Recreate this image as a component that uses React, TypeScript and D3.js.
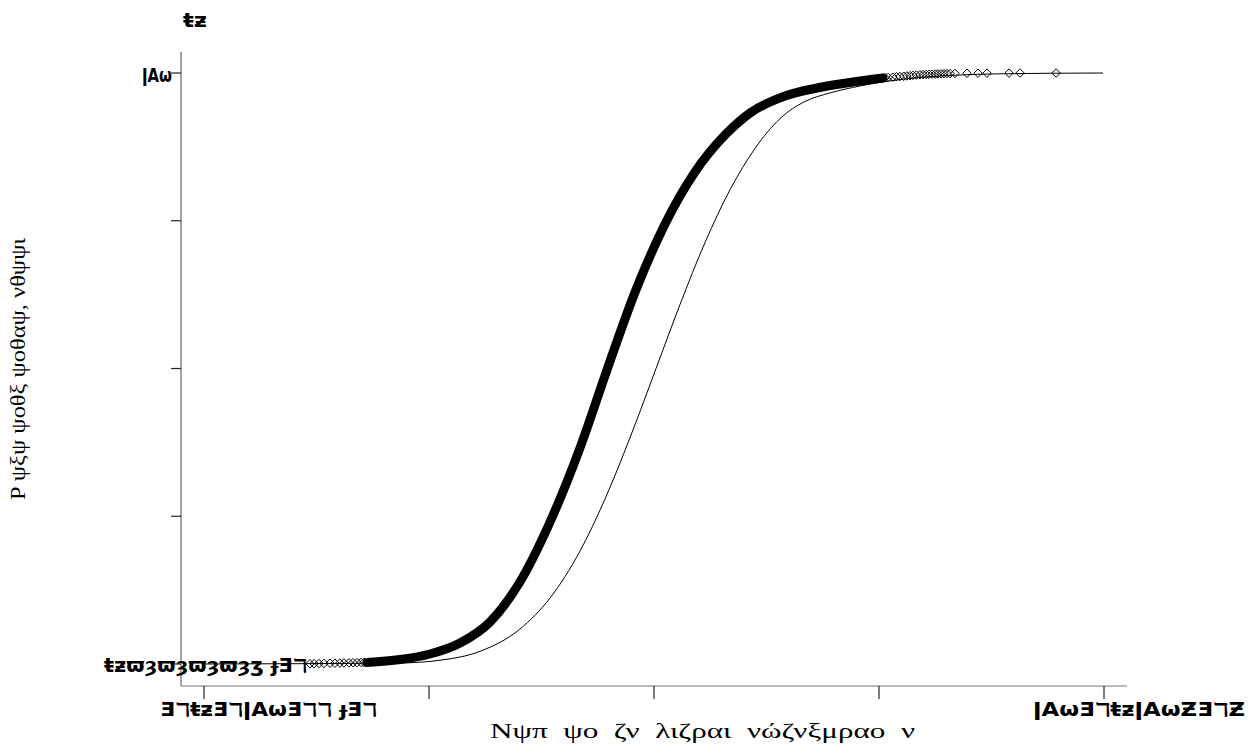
import React from "react";
import * as d3 from "d3";

// Empirical CDF (thick band of overlapping markers), x in axis units, y = cumulative share
const ecdfX = [0.724, 0.871, 1.004, 1.138, 1.271, 1.404, 1.538, 1.671, 1.791, 1.916, 2.049, 2.182, 2.316, 2.427, 2.582, 2.724, 2.871, 3.018];
const ecdfY = [0.0025, 0.0076, 0.0169, 0.0355, 0.0711, 0.1387, 0.2403, 0.3655, 0.4975, 0.6294, 0.7445, 0.8325, 0.8951, 0.9323, 0.9611, 0.9746, 0.9839, 0.9915];

// Sparse tail observations drawn as individual hollow diamonds
const tailLeftX = [0.471, 0.489, 0.511, 0.533, 0.56, 0.582, 0.604, 0.622, 0.644, 0.662, 0.68, 0.698, 0.711];
const tailLeftY = [0.0004, 0.0006, 0.0008, 0.001, 0.0012, 0.0014, 0.0016, 0.0018, 0.002, 0.0022, 0.0024, 0.0026, 0.0028];
const tailRightX = [3.027, 3.04, 3.062, 3.078, 3.093, 3.11, 3.124, 3.138, 3.151, 3.166, 3.182, 3.196, 3.209, 3.222, 3.236, 3.25, 3.262, 3.276, 3.289, 3.302, 3.316, 3.338, 3.391, 3.44, 3.48, 3.578, 3.627, 3.787];
const tailRightY = [0.992, 0.9925, 0.993, 0.9935, 0.994, 0.9945, 0.995, 0.9955, 0.996, 0.9965, 0.997, 0.9972, 0.9975, 0.9978, 0.998, 0.9982, 0.9985, 0.9987, 0.9989, 0.999, 0.9991, 0.9993, 0.9995, 0.9996, 0.9997, 0.9998, 0.9999, 1.0];

// Reference normal CDF (thin line)
const normX = [0, 0.871, 1.049, 1.227, 1.404, 1.538, 1.671, 1.782, 1.893, 2.009, 2.116, 2.227, 2.338, 2.449, 2.56, 2.671, 2.782, 2.916, 3.093, 3.316, 3.538, 3.996];
const normY = [0, 0.0017, 0.0064, 0.0215, 0.0591, 0.1117, 0.191, 0.279, 0.3826, 0.5, 0.6086, 0.7134, 0.8025, 0.8724, 0.9228, 0.9518, 0.9662, 0.978, 0.989, 0.9958, 0.99865, 1.0];

// Axis ticks
const xTicks = [0, 1, 2, 3, 4];
const yTicks = [0, 0.25, 0.5, 0.75, 1];
const xTickLabels = ["ƎℸŧƶƎℸǀAωƎℸℸ ɟƎℸ", "", "", "", "ǀAωƎℸŧƶǀAωƵƎℸƵ"];
const yTickLabels = ["ŧƶϖȝϖȝϖȝϖȝʒ ɟƎℸ", "", "", "", "ǀAω"];
const topLabel = "ŧƶ";
const xTitle = "Νψπ  ψο  ζν  λιζραι  νώζνξμραο  ν";
const yTitle = "P ψξψ ψοθξ ψοθαψ, νθψψι";

export default function App() {
  const W = 1253, H = 753;
  const x = d3.scaleLinear().domain([0, 4]).range([204, 1104]);
  const y = d3.scaleLinear().domain([0, 1]).range([664, 73]);

  const normPts = normX.map((v, i) => [v, normY[i]] as [number, number]);
  const ecdfPts = ecdfX.map((v, i) => [v, ecdfY[i]] as [number, number]);

  const line = d3
    .line<[number, number]>()
    .x((d) => x(d[0]))
    .y((d) => y(d[1]))
    .curve(d3.curveMonotoneX);

  const diamond = d3.symbol().type(d3.symbolDiamond2).size(46)() as string;
  const tails = [
    ...tailLeftX.map((v, i) => [v, tailLeftY[i]]),
    ...tailRightX.map((v, i) => [v, tailRightY[i]]),
  ];

  const axLeft = 181, axBottom = 686, axRight = 1127, axTop = 52;
  const tickFont = "'DejaVu Sans', sans-serif";

  return (
    <svg
      width={W}
      height={H}
      style={{ position: "absolute", left: 0, top: 0, background: "#fff" }}
    >
      {/* axes */}
      <line x1={axLeft} x2={axLeft} y1={axTop} y2={axBottom} stroke="#666" strokeWidth={1.2} />
      <line x1={axLeft} x2={axRight} y1={axBottom} y2={axBottom} stroke="#777" strokeWidth={1.2} />
      {xTicks.map((t) => (
        <line key={"xt" + t} x1={x(t)} x2={x(t)} y1={axBottom} y2={axBottom + 13} stroke="#222" strokeWidth={1.2} />
      ))}
      {yTicks.map((t) => (
        <line key={"yt" + t} x1={axLeft - 10} x2={axLeft} y1={y(t)} y2={y(t)} stroke="#222" strokeWidth={1.2} />
      ))}

      {/* normal reference line */}
      <path d={line(normPts) || ""} fill="none" stroke="#000" strokeWidth={1} />

      {/* empirical band */}
      <path d={line(ecdfPts) || ""} fill="none" stroke="#000" strokeWidth={9} strokeLinecap="round" strokeLinejoin="round" />
      {tails.map((d, i) => (
        <path
          key={"d" + i}
          d={diamond}
          transform={`translate(${x(d[0])},${y(d[1])})`}
          fill="none"
          stroke="#000"
          strokeWidth={1}
        />
      ))}

      {/* tick labels */}
      <text x={160} y={709} fontFamily={tickFont} fontWeight="bold" fontSize={19} dominantBaseline="central" textLength={217} lengthAdjust="spacingAndGlyphs">
        {xTickLabels[0]}
      </text>
      <text x={1033} y={709} fontFamily={tickFont} fontWeight="bold" fontSize={19} dominantBaseline="central" textLength={212} lengthAdjust="spacingAndGlyphs">
        {xTickLabels[4]}
      </text>
      <text x={142} y={y(1) + 2} fontFamily={tickFont} fontWeight="bold" fontSize={19} dominantBaseline="central" textLength={30} lengthAdjust="spacingAndGlyphs">
        {yTickLabels[4]}
      </text>
      <text x={104} y={y(0) + 1} fontFamily={tickFont} fontWeight="bold" fontSize={19} dominantBaseline="central" textLength={203} lengthAdjust="spacingAndGlyphs">
        {yTickLabels[0]}
      </text>
      <text x={183} y={20} fontFamily={tickFont} fontWeight="bold" fontSize={20} dominantBaseline="central" textLength={24} lengthAdjust="spacingAndGlyphs">
        {topLabel}
      </text>

      {/* titles */}
      <text x={490} y={738} fontFamily="'Liberation Serif', serif" fontSize={21} textLength={425} lengthAdjust="spacingAndGlyphs" style={{ whiteSpace: "pre" }}>
        {xTitle}
      </text>
      <text
        transform={`translate(25,${(axTop + axBottom) / 2}) rotate(-90)`}
        textAnchor="middle"
        fontFamily="'Liberation Serif', serif"
        fontSize={20}
        textLength={262}
        lengthAdjust="spacingAndGlyphs"
      >
        {yTitle}
      </text>
    </svg>
  );
}
